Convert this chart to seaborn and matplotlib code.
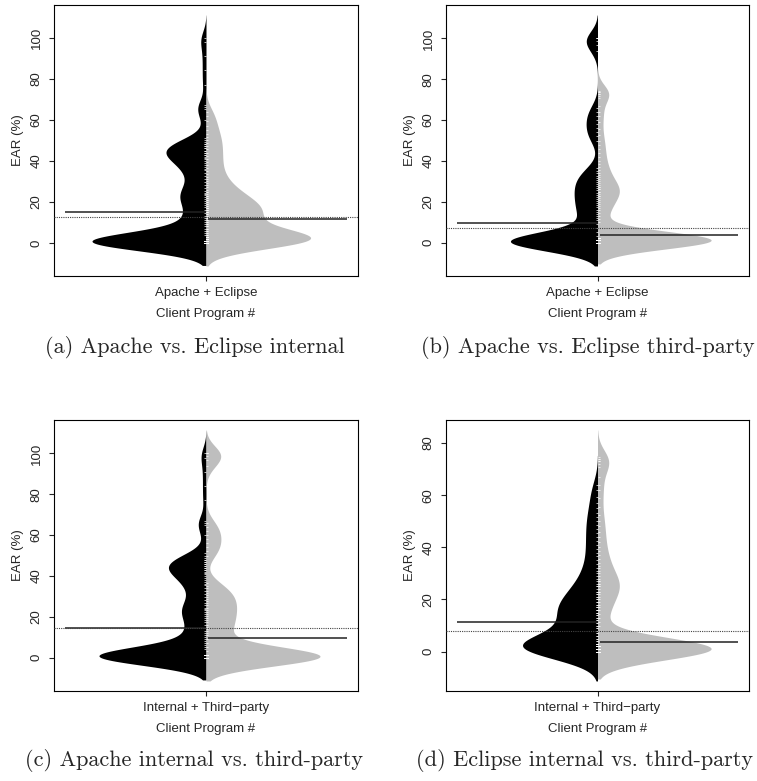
import numpy as np
import pandas as pd
import matplotlib
matplotlib.use("Agg")
import matplotlib.pyplot as plt
from matplotlib.ticker import MultipleLocator
import seaborn as sns

# ---------------- data (EAR %, one value per client program) ----------------
apache_internal = [0] * 23 + [1] * 22 + [
    4, 5, 6, 7, 8, 9, 10, 11, 12, 13, 14.5, 16, 17.5,
    18.5, 19.5, 20.5, 21.5, 22.5, 23.5, 24, 24.5, 25.5, 26.5,
    28, 29.5, 31, 32.5, 34, 35.5,
    36, 37, 38, 39, 40, 41, 41.5, 42,
    43, 43, 44, 44, 45, 45, 46, 46, 47, 47, 48, 48, 49, 50, 51,
    60, 65, 66, 67, 77, 84, 91, 98, 100]
eclipse_internal = [0] * 10 + [1] * 12 + [2] * 12 + [3] * 6 + [
    4, 4, 5, 5, 6, 6, 7, 7, 8, 8,
    9, 9, 10, 10, 11, 11, 12, 12, 13, 13, 14, 14, 15, 15, 15, 16, 16, 16,
    17, 17, 17, 18, 18, 19, 19,
    20, 20, 21, 21, 22, 22, 23, 23, 24, 25, 25, 26, 27,
    28, 29, 30, 31, 32, 33.5, 35,
    36.5, 38, 39.5, 41, 42.5, 44, 45.5, 47, 48.5, 50, 51.5, 53,
    55, 57, 59.5, 62, 64]
apache_third = [0] * 26 + [1] * 14 + [
    3, 5, 7, 9, 11,
    12, 13, 14, 15, 16, 17.5, 18.5, 19.5, 20.5, 21.5, 22.5, 23.5, 24.5,
    25.5, 26.5, 27.5, 28.5, 29.5, 30.5, 31.5, 32.5, 34, 35, 36.5,
    50, 52, 54, 56, 58, 60, 62, 64, 66,
    94, 97, 99, 100, 100, 100]
eclipse_third = [0] * 20 + [1] * 25 + [2] * 30 + [
    10, 11.5, 13, 14.5, 16, 17, 18, 19, 20, 21,
    22, 23, 23, 24, 25, 25, 26, 26, 27, 27, 28, 29,
    30, 31, 32, 33, 34, 35.5, 37, 38.5, 40, 42, 44, 46, 48, 50,
    52.5, 55.5, 59, 62, 64, 67, 71, 72, 73, 73, 74, 74, 74.5]

captions = ["(a) Apache vs. Eclipse internal",
            "(b) Apache vs. Eclipse third-party",
            "(c) Apache internal vs. third-party",
            "(d) Eclipse internal vs. third-party"]
group_labels = ["Apache + Eclipse", "Apache + Eclipse",
                "Internal + Third\u2212party", "Internal + Third\u2212party"]
left_data = [apache_internal, apache_third, apache_internal, eclipse_internal]
right_data = [eclipse_internal, eclipse_third, apache_third, eclipse_third]
mean_left = [14.9, 9.5, 14.5, 11.4]
mean_right = [11.5, 3.7, 9.8, 3.85]
overall_mean = [12.8, 6.9, 14.5, 7.8]

# ---------------- style / layout ----------------
# kernel bandwidth of each bean (in EAR % units)
bean_bw = {len(apache_internal): 4.4, len(eclipse_internal): 4.5,
           len(apache_third): 4.6, len(eclipse_third): 4.2}
axes_rect = [[54 / 757, 1 - 276 / 781, 304 / 757, 271 / 781],
             [446 / 757, 1 - 276 / 781, 303 / 757, 271 / 781],
             [54 / 757, 1 - 691 / 781, 304 / 757, 271 / 781],
             [446 / 757, 1 - 691 / 781, 303 / 757, 271 / 781]]
caption_pos = [(195, 348, "center"), (755, 348, "right"),
               (194, 761, "center"), (585, 760, "center")]

sns.set_style("white")
plt.rcParams["font.family"] = ["Liberation Sans", "DejaVu Sans"]
plt.rcParams["axes.unicode_minus"] = True

fig = plt.figure(figsize=(7.57, 7.81), dpi=100)


def bean_bandwidth(kde):
    return bean_bw[kde.n] / np.std(kde.dataset, ddof=1)


for i in range(4):
    ax = fig.add_axes(axes_rect[i])
    L, R = left_data[i], right_data[i]
    df = pd.DataFrame({
        "EAR": list(L) + list(R),
        "side": ["left"] * len(L) + ["right"] * len(R),
        "prog": group_labels[i],
    })
    sns.violinplot(data=df, x="prog", y="EAR", hue="side",
                   hue_order=["left", "right"], split=True, inner=None,
                   palette={"left": "black", "right": "#BEBEBE"},
                   saturation=1, linewidth=0, cut=2.5, gridsize=400,
                   bw_method=bean_bandwidth, width=0.75,
                   density_norm="area", common_norm=True,
                   legend=False, ax=ax)
    # bean lines (white ticks for each observation)
    ax.hlines(L, -0.006, 0.0, colors="white", lw=0.5, zorder=3)
    ax.hlines(R, 0.0, 0.008, colors="white", lw=0.5, zorder=3)
    # bean averages and overall average
    ax.hlines(mean_left[i], -0.464, 0.0, colors="#222222", lw=1.1, zorder=4)
    ax.hlines(mean_right[i], 0.008, 0.464, colors="#222222", lw=1.1, zorder=4)
    ax.axhline(overall_mean[i], color="#444444", ls=(0, (1, 1)), lw=0.8,
               zorder=4)

    ax.set_xlim(-0.5, 0.5)
    ax.margins(y=0.04)
    ax.autoscale_view(scalex=False)
    ax.yaxis.set_major_locator(MultipleLocator(20))
    ax.set_xlabel("Client Program #", fontsize=9.5, labelpad=6)
    ax.set_ylabel("EAR (%)", fontsize=9.5, labelpad=5)
    ax.tick_params(axis="both", direction="out", length=3.6, width=0.8,
                   labelsize=9.5, pad=4.5, left=True, bottom=True)
    for t in ax.get_yticklabels():
        t.set_rotation(90)
        t.set_va("center")
    for s in ax.spines.values():
        s.set_visible(True)
        s.set_color("black")
        s.set_linewidth(0.8)

    cx, cy, ha = caption_pos[i]
    fig.text(cx / 757, 1 - cy / 781, captions[i], ha=ha, va="center",
             fontfamily="cmr10", fontsize=16)

fig.savefig("out.png", dpi=100)
